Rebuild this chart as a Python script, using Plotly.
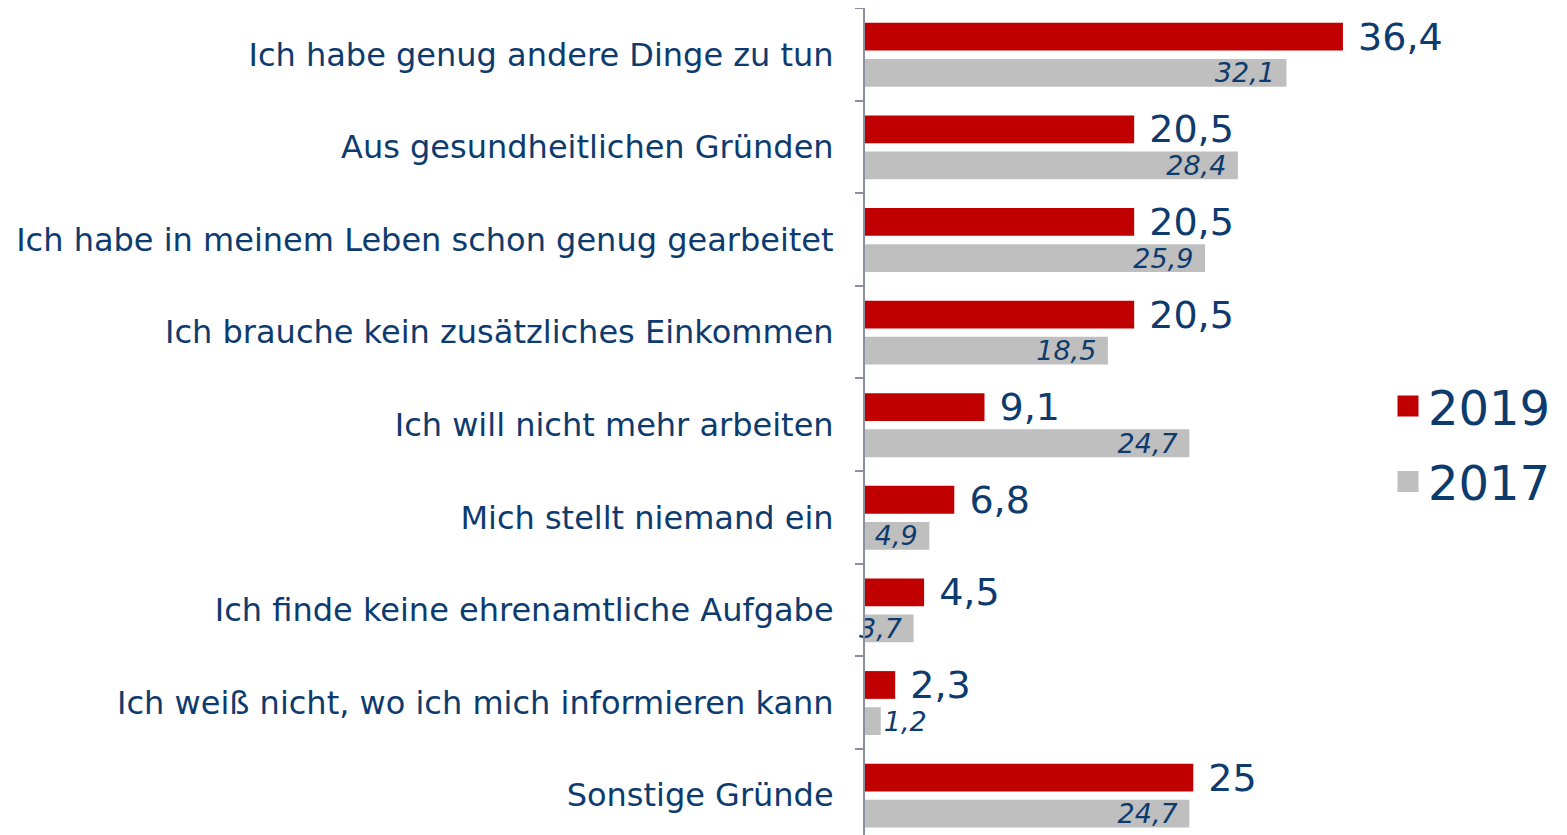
import plotly.graph_objects as go

categories = [
    "Ich habe genug andere Dinge zu tun",
    "Aus gesundheitlichen Gründen",
    "Ich habe in meinem Leben schon genug gearbeitet",
    "Ich brauche kein zusätzliches Einkommen",
    "Ich will nicht mehr arbeiten",
    "Mich stellt niemand ein",
    "Ich finde keine ehrenamtliche Aufgabe",
    "Ich weiß nicht, wo ich mich informieren kann",
    "Sonstige Gründe",
]
values_2019 = [36.4, 20.5, 20.5, 20.5, 9.1, 6.8, 4.5, 2.3, 25]
values_2017 = [32.1, 28.4, 25.9, 18.5, 24.7, 4.9, 3.7, 1.2, 24.7]
series_names = ["2019", "2017"]

RED = "#C00000"
GRAY = "#BFBFBF"
BLUE = "#0D3B6E"
FONT = "DejaVu Sans"


def de(v):
    return f"{v:g}".replace(".", ",")


fig = go.Figure()
fig.add_trace(go.Bar(
    y=categories, x=values_2019, orientation="h", name=series_names[0],
    marker=dict(color=RED, line=dict(width=0)),
    width=0.30, offset=-0.34,
    text=["\u00a0" + de(v) for v in values_2019],
    textposition="outside", constraintext="none", cliponaxis=False,
    textfont=dict(family=FONT, size=38, color=BLUE),
    showlegend=False, hoverinfo="skip",
))
fig.add_trace(go.Bar(
    y=categories, x=values_2017, orientation="h", name=series_names[1],
    marker=dict(color=GRAY, line=dict(width=0)),
    width=0.30, offset=0.05,
    text=[de(v) + "\u00a0" for v in values_2017],
    textposition="auto", insidetextanchor="end", constraintext="none",
    cliponaxis=False,
    textfont=dict(family=FONT, size=27, color=BLUE, style="italic"),
    showlegend=False, hoverinfo="skip",
))
# legend entries
for name, col in zip(series_names, [RED, GRAY]):
    fig.add_trace(go.Scatter(
        x=[None], y=[None], mode="markers", name=name, legendgroup=name,
        marker=dict(symbol="square", size=16, color=col,
                    line=dict(color=col, width=5)),
        showlegend=True,
    ))

fig.update_layout(
    width=1559, height=827,
    margin=dict(l=857, r=202, t=0, b=0),
    paper_bgcolor="white", plot_bgcolor="white",
    barmode="overlay",
    font=dict(family=FONT, color=BLUE),
    xaxis=dict(range=[0, 38.08], visible=False, showgrid=False, zeroline=False),
    yaxis=dict(
        type="category", range=[8.43, -0.5],
        categoryorder="array", categoryarray=categories,
        showline=True, linecolor="#8A8FA0", linewidth=2,
        ticks="outside", ticklen=8, tickcolor="#8A8FA0", tickwidth=2,
        tickson="boundaries", ticklabelstandoff=23,
        tickfont=dict(family=FONT, size=32, color=BLUE),
        showgrid=False, zeroline=False,
    ),
    legend=dict(
        x=1.046, xanchor="left", y=0.473, yanchor="middle",
        font=dict(family=FONT, size=48, color=BLUE),
        bgcolor="rgba(0,0,0,0)", itemsizing="trace",
        traceorder="grouped", tracegroupgap=10,
    ),
)

fig.write_html("out.html")
